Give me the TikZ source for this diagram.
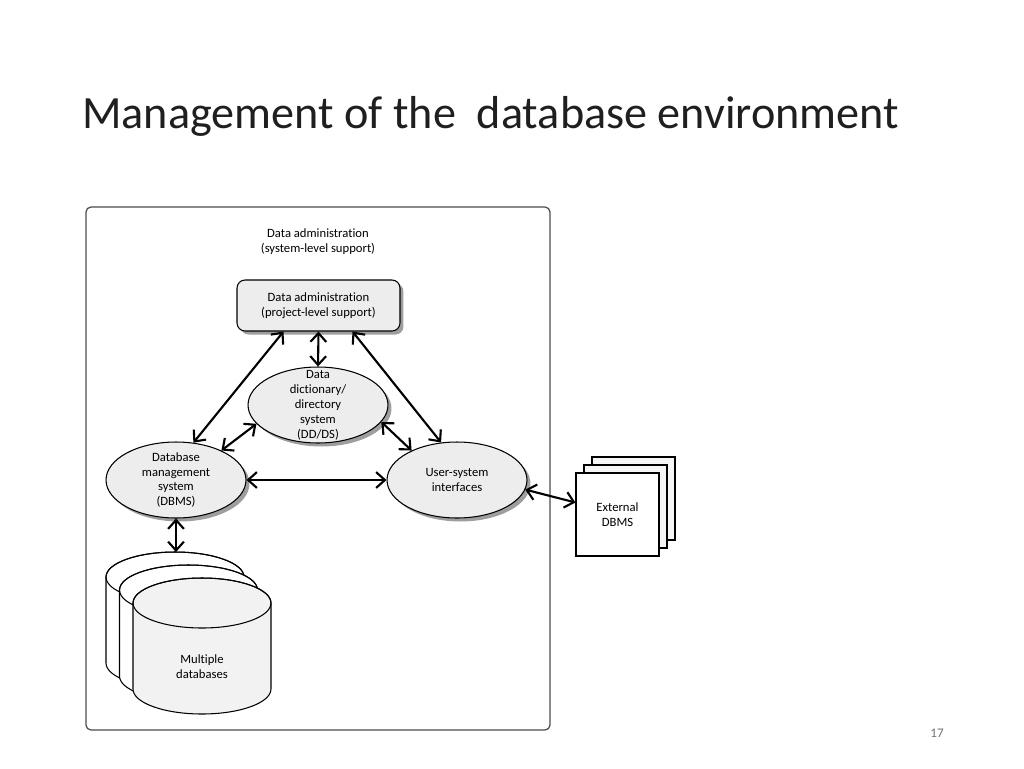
\documentclass[tikz,border=0pt]{standalone}
\usepackage{fontspec}
\setmainfont{Carlito}[Ligatures=NoCommon]
\usetikzlibrary{shapes, arrows.meta, positioning, calc, shadows}

\begin{document}
\begin{tikzpicture}[x=0.02cm, y=-0.02cm,
		every node/.style={font=\fontsize{7.2}{8.5}\selectfont, align=center},
		shadowed/.style={drop shadow={shadow xshift=0.07cm, shadow yshift=-0.07cm, fill=black!38, opacity=1}},
		bubble/.style={ellipse, draw, fill=black!7, line width=0.6pt, minimum width=2.8cm, minimum height=1.52cm, inner sep=0pt, shadowed},
		link/.style={{Straight Barb[length=5pt,width=9pt]}-{Straight Barb[length=5pt,width=9pt]}, line width=1.2pt}]
		\useasboundingbox (0,0) rectangle (1024,768);
		\node[anchor=base west, inner sep=0pt, font=\fontsize{26.3}{32}\selectfont, text=black!88] (title) at (82,128) {Management of the~ database environment};
		\draw[black!70, line width=0.7pt, rounded corners=0.1cm] (86,207) rectangle (550,730);

		\node (sysadmin) at (318,242) {Data administration\\(system-level support)};
		\node[draw, rounded corners=0.16cm, fill=black!7, line width=0.6pt, minimum width=3.26cm, minimum height=1.02cm, shadowed] (proj) at (318.5,305.5) {Data administration\\(project-level support)};
		\node[bubble, label={center:Data\\dictionary/\\directory\\system\\(DD/DS)}] (dd) at (318,405) {};
		\node[bubble, label={center:Database\\management\\system\\(DBMS)}] (dbms) at (176,480) {};
		\node[bubble, label={center:User-system\\interfaces}] (user) at (457,480) {};

		% external systems, back to front
		\foreach \d in {16,8}
			\draw[fill=black!4, line width=0.6pt] (576+\d,473-\d) rectangle +(83,83);
		\node[draw, fill=white, line width=0.6pt, minimum size=1.66cm] (ext) at (617.5,514.5) {External\\DBMS};

		% stacked databases
		\foreach \i/\c in {0/white, 1/white, 2/black!5} {
			\begin{scope}[shift={(175+13.5*\i,577+13*\i)}]
				\filldraw[fill=\c, line width=0.6pt] (-69,0) -- (-69,86)
					arc[start angle=180, end angle=360, x radius=1.38cm, y radius=0.5cm] -- (69,0)
					arc[start angle=0, end angle=180, x radius=1.38cm, y radius=0.5cm] -- cycle;
				\draw[line width=0.6pt] (0,0) ellipse[x radius=1.38cm, y radius=0.5cm];
			\end{scope}
		}
		\node (dbs) at (202,667) {Multiple\\databases};
		\coordinate (dbtop) at (176,552);

		\draw[link] (proj.south) -- (dd.north);
		\draw[link] ($(proj.south)+(-35,0)$) -- (dbms.65);
		\draw[link] ($(proj.south)+(34,0)$) -- (user.113);
		\draw[link] (dd.197) -- (dbms.33);
		\draw[link] (dd.345) -- (user.147);
		\draw[link] (dbms.east) -- (user.west);
		\draw[link] (user.-8) -- ($(ext.west)+(0,-12)$);
		\draw[link] (dbms.south) -- (dbtop);

		\node[text=black!55, font=\fontsize{7.5}{9}\selectfont] (pagenum) at (937,733) {17};
	\end{tikzpicture}
\end{document}
